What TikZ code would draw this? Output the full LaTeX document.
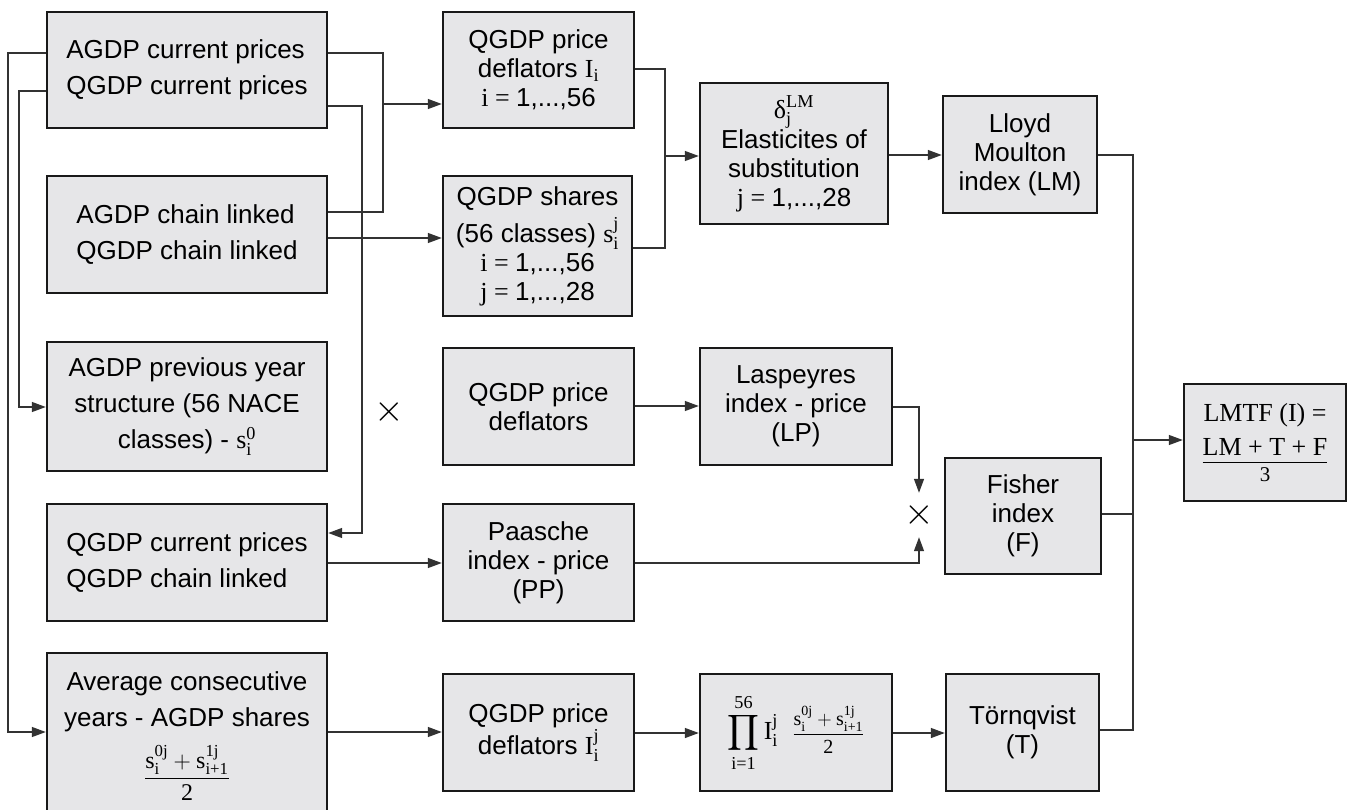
\documentclass[tikz,border=0pt]{standalone}
\usepackage{fix-cm}
\usepackage{amsmath}
\usepackage{fontspec}
\setmainfont{Liberation Sans}
\newfontfamily\tms{Liberation Serif}
\usetikzlibrary{arrows.meta}
\definecolor{boxgray}{RGB}{230,230,232}
\definecolor{linegray}{RGB}{50,50,50}
\newcommand{\tx}[1]{\text{\tms #1}}
\begin{document}
\begin{tikzpicture}[x=1pt,y=-1pt,
  box/.style={draw=black!90, line width=2.4pt, fill=boxgray, inner sep=2pt,
              font=\fontsize{26}{29}\selectfont, align=center},
  abox/.style={box, font=\fontsize{26}{36}\selectfont},
  conn/.style={draw=linegray, line width=1.3pt},
  arr/.style={conn, -{Triangle[length=14pt,width=10pt]}},
  cross/.style={inner sep=0pt, font=\fontsize{38}{38}\selectfont},
]
\useasboundingbox (0,0) rectangle (1354,809);
\clip (0,0) rectangle (1354,809);

% column A
\node[abox, align=left, minimum width=280pt, minimum height=116pt] (A1) at (187,70)
  {AGDP current prices\\QGDP current prices};
\node[abox, align=left, minimum width=280pt, minimum height=117pt] (A2) at (187,234.5)
  {AGDP chain linked\\QGDP chain linked};
\node[abox, minimum width=280pt, minimum height=129pt] (A3) at (187,406.5)
  {AGDP previous year\\structure (56 NACE\\classes) - $\tx{s}_{\tx{i}}^{\tx{0}}$};
\node[abox, align=left, minimum width=280pt, minimum height=117pt] (A4) at (187,562.5)
  {QGDP current prices\\QGDP chain linked};
\node[abox, minimum width=280pt, minimum height=160pt] (A5) at (187,733)
  {\begin{tabular}{@{}c@{}}Average consecutive\\years - AGDP shares\\[8pt]
   {\fontsize{24}{36}\selectfont$\dfrac{\tx{s}_{\tx{i}}^{\tx{0j}}+\tx{s}_{\tx{i+1}}^{\tx{1j}}}{\tx{2}}$}
   \end{tabular}};

% column B
\node[box, minimum width=191pt, minimum height=116pt] (B1) at (538.5,70)
  {QGDP price\\deflators $\tx{I}_{\tx{i}}$\\{\tms i = }1,...,56};
\node[box, minimum width=189pt, minimum height=140pt] (B2) at (537.5,246)
  {QGDP shares\\[6pt](56 classes) $\tx{s}_{\tx{i}}^{\tx{j}}$\\{\tms i = }1,...,56\\{\tms j = }1,...,28};
\node[box, minimum width=191pt, minimum height=117pt] (B3) at (538.5,406.5)
  {QGDP price\\deflators};
\node[box, minimum width=191pt, minimum height=117pt] (B4) at (538.5,562.5)
  {Paasche\\index - price\\(PP)};
\node[box, minimum width=191pt, minimum height=117pt] (B5) at (538.5,732.5)
  {QGDP price\\deflators $\tx{I}_{\tx{i}}^{\tx{j}}$};

% column C
\node[box, minimum width=188pt, minimum height=141pt] (C1) at (794,153.5)
  {$\tx{δ}_{\tx{j}}^{\tx{LM}}$\\Elasticites of\\substitution\\{\tms j = }1,...,28};
\node[box, minimum width=192pt, minimum height=117pt] (C2) at (796,406.5)
  {Laspeyres\\index - price\\(LP)};
\node[box, minimum width=192pt, minimum height=117pt] (C3) at (796,732.5)
  {\fontsize{26}{28}\selectfont$\displaystyle\prod_{\tx{i=1}}^{\tx{56}}\tx{I}_{\tx{i}}^{\tx{j}}$\;
   {\fontsize{20}{22}\selectfont$\dfrac{\tx{s}_{\tx{i}}^{\tx{0j}}+\tx{s}_{\tx{i+1}}^{\tx{1j}}}{\tx{2}}$}};

% column D
\node[box, minimum width=154pt, minimum height=117pt] (D1) at (1020,154.5)
  {Lloyd\\Moulton\\index (LM)};
\node[box, minimum width=156pt, minimum height=116pt] (D2) at (1023,516)
  {Fisher\\index\\(F)};
\node[box, minimum width=153pt, minimum height=117pt] (D3) at (1022.5,732.5)
  {Törnqvist\\(T)};

% result
\node[box, minimum width=162pt, minimum height=117pt] (E) at (1265,442.5)
  {\tms\fontsize{26}{35}\selectfont\renewcommand{\arraystretch}{0}%
   \setlength{\arrayrulewidth}{1.2pt}%
   \begin{tabular}{@{}c@{}}LMTF (I) =\\[17pt]
   LM + T + F\\[6pt]\hline
   \rule{0pt}{18pt}{\fontsize{21}{21}\selectfont 3}
   \end{tabular}};

% crosses
\node[cross, minimum width=22pt, minimum height=44pt] (X1) at (389,412) {$\times$};
\node[cross, minimum width=22pt, minimum height=44pt] (X2) at (919,515) {$\times$};

% connectors
\draw[arr] (A1.west|-0,53) -- (8,53) -- (8,732) -- (A5.west|-0,732);
\draw[arr] (A1.west|-0,91) -- (19,91) -- (19,407) -- (A3.west|-0,407);
\draw[conn] (A1.east|-0,53) -- (383,53) -- (383,212) -- (A2.east|-0,212);
\draw[arr] (383,104) -- (B1.west|-0,104);
\draw[arr] (A1.east|-0,106) -- (362,106) -- (362,533) -- (A4.east|-0,533);
\draw[arr] (A2.east|-0,238) -- (B2.west|-0,238);
\draw[arr] (A4.east|-0,563) -- (B4.west|-0,563);
\draw[arr] (A5.east|-0,732) -- (B5.west|-0,732);
\draw[conn] (B1.east|-0,69) -- (665,69) -- (665,248) -- (B2.east|-0,248);
\draw[arr] (665,156) -- (C1.west|-0,156);
\draw[arr] (B3.east|-0,406) -- (C2.west|-0,406);
\draw[arr] (B5.east|-0,733) -- (C3.west|-0,733);
\draw[arr] (C1.east|-0,155) -- (D1.west|-0,155);
\draw[arr] (C3.east|-0,733) -- (D3.west|-0,733);
\draw[arr] (C2.east|-0,407) -- (919,407) -- (X2.north);
\draw[arr] (B4.east|-0,563) -- (919,563) -- (X2.south);
\draw[conn] (D1.east|-0,155) -- (1133,155) -- (1133,730) -- (D3.east|-0,730);
\draw[conn] (D2.east|-0,514) -- (1133,514);
\draw[arr] (1133,440) -- (E.west|-0,440);
\end{tikzpicture}
\end{document}
